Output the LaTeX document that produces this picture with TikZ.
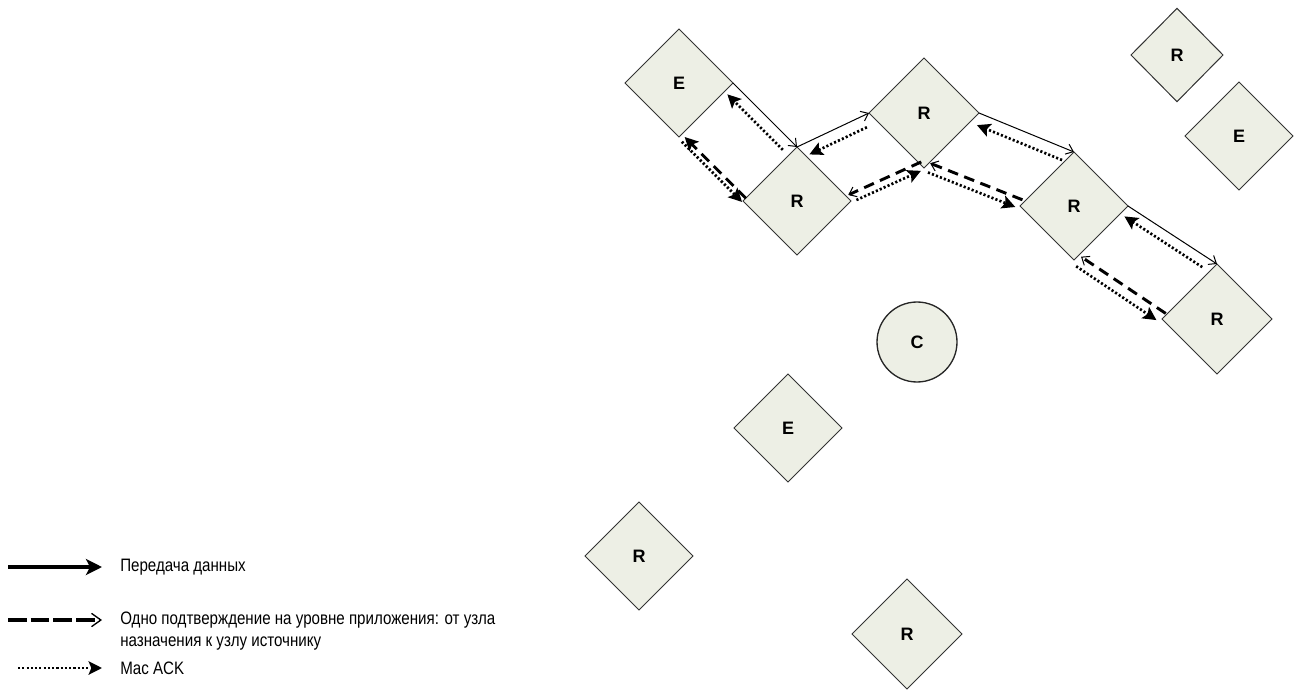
\documentclass[tikz,border=0pt]{standalone}
\usepackage{fontspec}
\setmainfont{Liberation Sans}
\newfontfamily\legendfont[FakeStretch=0.84]{Liberation Sans}
\usetikzlibrary{calc,arrows.meta,shapes.geometric}
\definecolor{nodefill}{RGB}{237,239,229}
\begin{document}
\begin{tikzpicture}[x=0.75pt,y=-0.75pt,
  dnode/.style={shape=diamond, draw=black!80, line width=0.75pt, fill=nodefill,
    minimum width=81pt, minimum height=81pt, inner sep=0pt, outer sep=0pt,
    font=\bfseries\fontsize{13.5}{16}\selectfont},
  bignode/.style={minimum width=82.5pt, minimum height=82.5pt},
  cnode/.style={circle, draw=black!85, line width=1pt, fill=nodefill,
    minimum size=60pt, inner sep=0pt, outer sep=0pt,
    font=\bfseries\fontsize{13.5}{16}\selectfont},
  data/.style={draw, line width=0.75pt,
    -{Straight Barb[length=5pt,width=8pt,line width=0.75pt]}},
  mack/.style={draw, line width=2pt, dash pattern=on 1.6pt off 1.6pt,
    -{Stealth[length=10pt,width=10pt,inset=2pt]}},
  appack/.style={draw, line width=2.2pt, dash pattern=on 8pt off 5pt,
    -{Straight Barb[length=5pt,width=8pt,line width=0.75pt]}},
  legtext/.style={font=\legendfont\fontsize{13.5}{16.5}\selectfont,
    anchor=west, inner sep=0pt, align=left}
]
\useasboundingbox (0,0) rectangle (1296,692);

% nodes
\node[dnode] (E1) at (679,83) {E};
\node[dnode] (R1) at (797,201) {R};
\node[dnode,bignode] (R2) at (924,113) {R};
\node[dnode] (R3) at (1074,206) {R};
\node[dnode,bignode] (R4) at (1217,319) {R};
\node[dnode, minimum width=69pt, minimum height=70pt] (R5) at (1177,55) {R};
\node[dnode] (E2) at (1239,136) {E};
\node[cnode] (C) at (917,342) {C};
\node[dnode] (E3) at (788,428) {E};
\node[dnode] (R6) at (639,556) {R};
\node[dnode,bignode] (R7) at (907,634) {R};

% link E1 -> R1
\draw[data] (E1.east) -- (R1.north);
\draw[mack, shorten <=6pt, shorten >=3pt]
  ($(R1.north)!9pt!90:(E1.east)$) -- ($(E1.east)!9pt!-90:(R1.north)$);
\draw[appack, -{Stealth[length=10pt,width=10pt,inset=2pt]}, shorten >=3pt]
  ($(R1.west)!3pt!-90:(E1.south)$) -- ($(E1.south)!3pt!90:(R1.west)$);
\draw[mack, shorten <=4pt]
  ($(E1.south)!1pt!-90:(R1.west)$) -- ($(R1.west)!1pt!90:(E1.south)$);

% link R1 -> R2
\draw[data] (R1.north) -- (R2.west);
\draw[mack, shorten <=6pt, shorten >=6pt]
  ($(R2.west)!9pt!90:(R1.north)$) -- ($(R1.north)!9pt!-90:(R2.west)$);
\draw[appack]
  ($(R2.south)!5pt!-90:(R1.east)$) -- ($(R1.east)!5pt!90:(R2.south)$);
\draw[mack, shorten <=4pt, shorten >=3pt]
  ($(R1.east)!1pt!-90:(R2.south)$) -- ($(R2.south)!1pt!90:(R1.east)$);

% link R2 -> R3
\draw[data] (R2.east) -- (R3.north);
\draw[mack, shorten <=6pt, shorten >=2pt]
  ($(R3.north)!9pt!90:(R2.east)$) -- ($(R2.east)!9pt!-90:(R3.north)$);
\draw[appack, shorten >=3pt]
  ($(R3.west)!5pt!-90:(R2.south)$) -- ($(R2.south)!5pt!90:(R3.west)$);
\draw[mack, shorten <=4pt, shorten >=3pt]
  ($(R2.south)!2pt!-90:(R3.west)$) -- ($(R3.west)!2pt!90:(R2.south)$);

% link R3 -> R4
\draw[data] (R3.east) -- (R4.north);
\draw[mack, shorten <=8pt, shorten >=2pt]
  ($(R4.north)!8pt!90:(R3.east)$) -- ($(R3.east)!8pt!-90:(R4.north)$);
\draw[appack, shorten >=3pt]
  ($(R4.west)!5pt!-90:(R3.south)$) -- ($(R3.south)!5pt!90:(R4.west)$);
\draw[mack, shorten <=4pt, shorten >=3pt]
  ($(R3.south)!3pt!-90:(R4.west)$) -- ($(R4.west)!3pt!90:(R3.south)$);

% legend
\coordinate (L1a) at (8,567);
\coordinate (L1b) at (102,567);
\draw[data, line width=3pt, -{Stealth[length=12pt,width=12pt,inset=3pt]}] (L1a) -- (L1b);
\node[legtext] (T1) at (120,567) {Передача данных};

\coordinate (L2a) at (8,620);
\coordinate (L2b) at (102,620);
\draw[appack, line width=3pt, dash pattern=on 14pt off 3pt,
  -{Straight Barb[length=7pt,width=10pt,line width=1pt]}] (L2a) -- (L2b);
\node[legtext] (T2) at (120,631) {Одно подтверждение на уровне приложения: от узла\\назначения к узлу источнику};

\coordinate (L3a) at (18,668);
\coordinate (L3b) at (102,668);
\draw[mack] (L3a) -- (L3b);
\node[legtext] (T3) at (120,668) {Mac ACK};
\end{tikzpicture}
\end{document}
